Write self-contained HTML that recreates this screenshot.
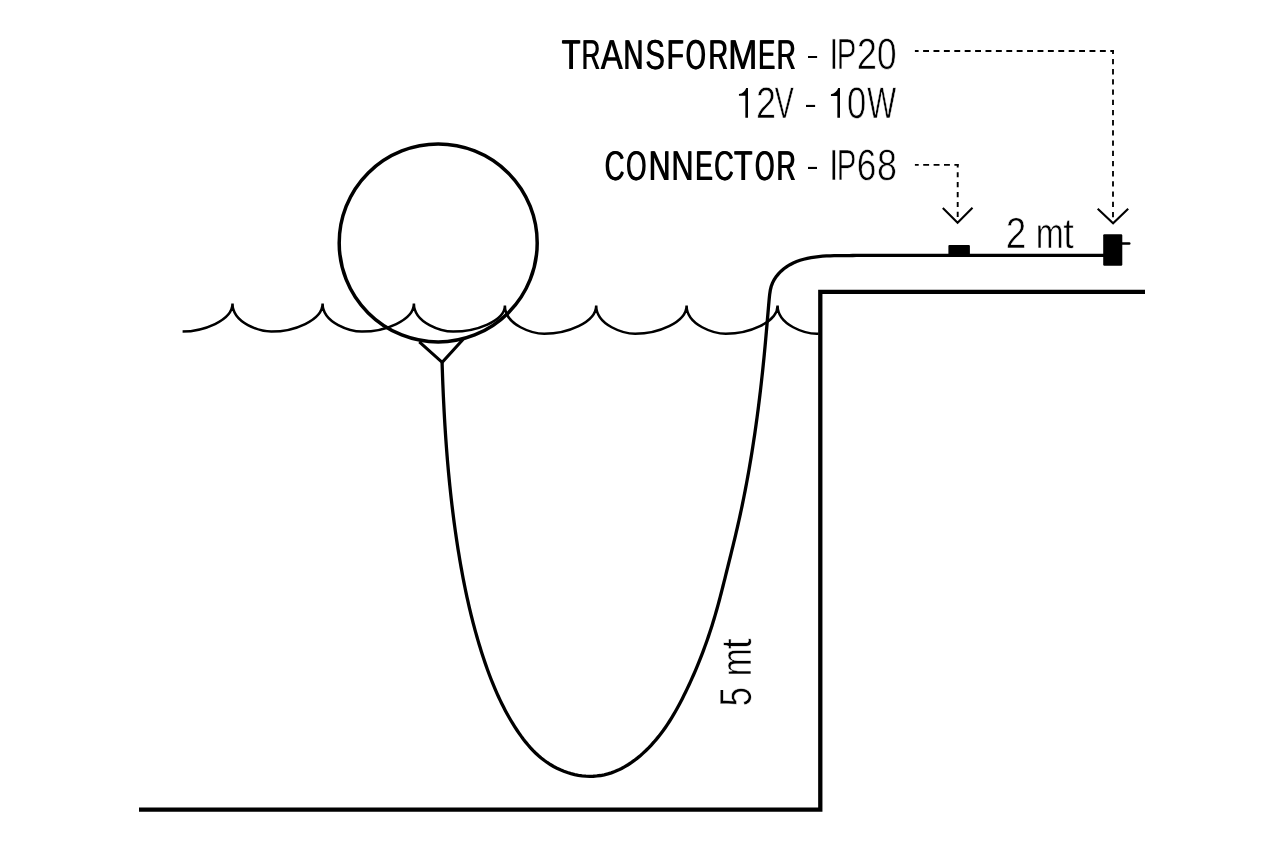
<!DOCTYPE html>
<html><head><meta charset="utf-8"><style>
html,body{margin:0;padding:0;background:#fff;width:1270px;height:847px;overflow:hidden}
svg{display:block;font-family:"Liberation Sans",sans-serif;will-change:transform;text-rendering:geometricPrecision}
text.r{stroke:#fff;stroke-width:0.6px}
</style></head><body>
<svg width="1270" height="847" viewBox="0 0 1270 847">
<defs><clipPath id="wc"><rect x="182.6" y="250" width="636" height="120"/></clipPath></defs>
<rect width="1270" height="847" fill="#fff"/>
<g fill="none" stroke="#000">
<path d="M139,809.7 H820.3 V291.9 H1145" stroke-width="4.3" stroke-linejoin="miter"/>
<path d="M142.00,303.50 C142.00,323.63 170.35,331.60 180.99,331.60 C203.07,331.60 232.50,320.72 232.50,303.50 C232.50,323.63 260.73,331.60 271.32,331.60 C293.30,331.60 322.60,320.72 322.60,303.50 C322.60,323.63 351.20,331.60 361.93,331.60 C384.21,331.60 413.90,320.72 413.90,303.50 C413.90,323.63 442.41,331.60 453.10,331.60 C475.31,331.60 504.90,321.49 504.90,305.50 C504.90,325.77 533.50,333.80 544.23,333.80 C566.51,333.80 596.20,322.84 596.20,305.50 C596.20,325.77 624.52,333.80 635.14,333.80 C657.20,333.80 686.60,322.84 686.60,305.50 C686.60,325.77 715.11,333.80 725.80,333.80 C748.01,333.80 777.60,322.84 777.60,305.50 C777.60,325.77 806.11,333.80 816.80,333.80 C839.01,333.80 868.60,322.84 868.60,305.50" stroke-width="2.5" clip-path="url(#wc)"/>
<circle cx="438.2" cy="242.9" r="99" stroke-width="3.5"/>
<path d="M419.3,341.8 L442.2,362.3 L463.2,339.3" stroke-width="3.1" stroke-linejoin="miter"/>
<path d="M442.09,362.51 L442.20,366.26 L442.33,370.00 L442.46,373.74 L442.59,377.49 L442.73,381.23 L442.88,384.98 L443.04,388.72 L443.20,392.47 L443.37,396.21 L443.54,399.96 L443.73,403.70 L443.92,407.45 L444.11,411.19 L444.32,414.93 L444.53,418.68 L444.75,422.42 L444.98,426.16 L445.22,429.91 L445.46,433.65 L445.71,437.39 L445.98,441.13 L446.25,444.87 L446.53,448.61 L446.82,452.35 L447.11,456.09 L447.42,459.82 L447.74,463.56 L448.07,467.30 L448.40,471.03 L448.75,474.76 L449.11,478.50 L449.48,482.23 L449.85,485.96 L450.24,489.69 L450.64,493.42 L451.05,497.14 L451.48,500.87 L451.91,504.59 L452.35,508.31 L452.81,512.03 L453.28,515.75 L453.76,519.47 L454.25,523.19 L454.75,526.90 L455.27,530.62 L455.80,534.33 L456.34,538.04 L456.90,541.74 L457.46,545.45 L458.04,549.15 L458.64,552.85 L459.25,556.55 L459.87,560.25 L460.51,563.94 L461.16,567.63 L461.83,571.32 L462.51,575.01 L463.21,578.69 L463.93,582.37 L464.66,586.04 L465.41,589.72 L466.18,593.38 L466.97,597.05 L467.78,600.71 L468.61,604.36 L469.46,608.01 L470.32,611.66 L471.21,615.30 L472.12,618.93 L473.05,622.56 L474.00,626.19 L474.98,629.81 L475.98,633.42 L477.00,637.03 L478.04,640.63 L479.11,644.23 L480.21,647.82 L481.33,651.40 L482.47,654.98 L483.64,658.55 L484.84,662.11 L486.06,665.66 L487.32,669.20 L488.61,672.73 L489.93,676.25 L491.28,679.75 L492.67,683.23 L494.10,686.70 L495.57,690.16 L497.08,693.59 L498.62,697.00 L500.22,700.39 L501.85,703.76 L503.53,707.10 L505.26,710.42 L507.04,713.71 L508.87,716.98 L510.75,720.21 L512.68,723.42 L514.66,726.59 L516.71,729.74 L518.80,732.84 L520.96,735.91 L523.19,738.93 L525.49,741.90 L527.87,744.79 L530.33,747.62 L532.88,750.36 L535.52,753.00 L538.27,755.55 L541.13,757.98 L544.09,760.30 L547.16,762.48 L550.33,764.54 L553.58,766.45 L556.93,768.21 L560.35,769.82 L563.84,771.26 L567.40,772.54 L571.01,773.63 L574.67,774.54 L578.37,775.27 L582.08,775.81 L585.81,776.15 L589.54,776.29 L593.26,776.24 L596.96,775.98 L600.63,775.51 L604.25,774.83 L607.82,773.94 L611.34,772.85 L614.81,771.57 L618.21,770.11 L621.56,768.48 L624.84,766.69 L628.06,764.75 L631.22,762.67 L634.30,760.46 L637.32,758.13 L640.26,755.69 L643.13,753.15 L645.93,750.53 L648.64,747.82 L651.28,745.05 L653.83,742.22 L656.30,739.34 L658.69,736.42 L660.99,733.46 L663.23,730.46 L665.39,727.42 L667.48,724.35 L669.51,721.24 L671.48,718.10 L673.40,714.93 L675.26,711.73 L677.08,708.50 L678.86,705.24 L680.60,701.96 L682.30,698.66 L683.98,695.33 L685.62,691.99 L687.24,688.62 L688.84,685.24 L690.41,681.84 L691.96,678.42 L693.48,674.99 L694.97,671.54 L696.44,668.08 L697.88,664.60 L699.29,661.11 L700.68,657.61 L702.05,654.09 L703.38,650.57 L704.69,647.03 L705.97,643.49 L707.23,639.93 L708.46,636.37 L709.66,632.80 L710.83,629.23 L711.98,625.65 L713.09,622.06 L714.18,618.47 L715.25,614.88 L716.28,611.28 L717.29,607.68 L718.28,604.08 L719.26,600.47 L720.21,596.87 L721.15,593.25 L722.08,589.64 L723.00,586.02 L723.91,582.40 L724.82,578.78 L725.72,575.15 L726.62,571.52 L727.53,567.89 L728.43,564.26 L729.33,560.63 L730.24,556.99 L731.14,553.35 L732.03,549.71 L732.92,546.06 L733.81,542.42 L734.69,538.77 L735.56,535.12 L736.42,531.46 L737.26,527.81 L738.10,524.15 L738.92,520.49 L739.73,516.82 L740.53,513.15 L741.32,509.49 L742.09,505.81 L742.84,502.14 L743.59,498.46 L744.32,494.78 L745.05,491.10 L745.75,487.42 L746.45,483.74 L747.14,480.05 L747.81,476.36 L748.47,472.67 L749.12,468.98 L749.76,465.28 L750.39,461.59 L751.00,457.89 L751.61,454.19 L752.20,450.49 L752.79,446.78 L753.36,443.08 L753.93,439.37 L754.48,435.66 L755.02,431.96 L755.55,428.25 L756.08,424.53 L756.59,420.82 L757.10,417.11 L757.59,413.39 L758.08,409.68 L758.55,405.96 L759.02,402.24 L759.48,398.52 L759.93,394.80 L760.37,391.08 L760.80,387.36 L761.23,383.64 L761.64,379.92 L762.05,376.19 L762.45,372.47 L762.84,368.74 L763.23,365.02 L763.61,361.29 L763.98,357.57 L764.34,353.84 L764.70,350.12 L765.05,346.39 L765.39,342.66 L765.73,338.93 L766.06,335.20 L766.39,331.47 L766.71,327.74 L767.04,324.00 L767.36,320.25 L767.68,316.50 L768.00,312.75 L768.33,308.98 L768.65,305.21 L768.98,301.43 L769.32,297.65 L769.73,293.88 L770.31,290.17 L771.18,286.56 L772.44,283.10 L774.10,279.82 L776.12,276.72 L778.45,273.84 L781.04,271.17 L783.85,268.75 L786.83,266.58 L789.96,264.67 L793.22,262.99 L796.60,261.54 L800.09,260.29 L803.67,259.23 L807.33,258.34 L811.05,257.62 L814.83,257.03 L818.66,256.57 L822.51,256.22 L826.37,255.97 L830.24,255.79 L834.10,255.68 L837.93,255.62 L841.73,255.59 L845.48,255.57 L849.16,255.55 L852.77,255.52 L856.28,255.45 L859.70,255.34 H1104" stroke-width="3.3"/>
<path d="M914.9,51.0 H1113.95" stroke-width="1.9" stroke-dasharray="5.9 4.5" stroke-dashoffset="2.2"/>
<path d="M1113,50.05 V221" stroke-width="1.85" stroke-dasharray="5.3 4.9" stroke-dashoffset="1.35"/>
<path d="M914.9,164.8 H958.6" stroke-width="1.75" stroke-dasharray="5.9 4.5" stroke-dashoffset="2.1"/>
<path d="M957.7,163.95 V220.5" stroke-width="1.9" stroke-dasharray="5.2 4.73" stroke-dashoffset="1.75"/>
<path d="M1097.7,208.7 L1113.1,223.3 L1128.2,208.7" stroke-width="2.1"/>
<path d="M942.8,208.1 L957.6,222.7 L972.5,207.8" stroke-width="2.1"/>
<path d="M1122,243.5 H1129.3" stroke-width="2.4" stroke-linecap="round"/>
</g>
<rect x="808.0" y="56.0" width="9.1" height="2.0" fill="#000"/>
<rect x="806.0" y="104.9" width="9.1" height="2.1" fill="#000"/>
<rect x="808.0" y="166.9" width="9.0" height="2.1" fill="#000"/>
<rect x="948.4" y="245" width="21.5" height="11.5" rx="1" fill="#000"/>
<rect x="1103.2" y="234.2" width="19.1" height="31.5" rx="1.2" fill="#000"/>
<g font-family="Liberation Sans" fill="#000">
<text transform="translate(561.31 68.75) scale(0.7320 1)" font-size="41.8">T</text><text transform="translate(562.21 68.75) scale(0.7320 1)" font-size="41.8">T</text>
<text transform="translate(581.17 68.75) scale(0.6205 1)" font-size="41.8">R</text><text transform="translate(582.07 68.75) scale(0.6205 1)" font-size="41.8">R</text>
<text transform="translate(600.44 68.75) scale(0.7793 1)" font-size="41.8">A</text><text transform="translate(601.34 68.75) scale(0.7793 1)" font-size="41.8">A</text>
<text transform="translate(623.04 68.75) scale(0.6596 1)" font-size="41.8">N</text><text transform="translate(623.94 68.75) scale(0.6596 1)" font-size="41.8">N</text>
<text transform="translate(644.97 68.75) scale(0.6982 1)" font-size="41.8">S</text><text transform="translate(645.87 68.75) scale(0.6982 1)" font-size="41.8">S</text>
<text transform="translate(666.30 68.75) scale(0.6706 1)" font-size="41.8">F</text><text transform="translate(667.20 68.75) scale(0.6706 1)" font-size="41.8">F</text>
<text transform="translate(685.28 68.75) scale(0.6168 1)" font-size="41.8">O</text><text transform="translate(686.18 68.75) scale(0.6168 1)" font-size="41.8">O</text>
<text transform="translate(707.98 68.75) scale(0.6487 1)" font-size="41.8">R</text><text transform="translate(708.88 68.75) scale(0.6487 1)" font-size="41.8">R</text>
<text transform="translate(727.72 68.75) scale(0.8404 1)" font-size="41.8">M</text><text transform="translate(728.62 68.75) scale(0.8404 1)" font-size="41.8">M</text>
<text transform="translate(757.68 68.75) scale(0.6180 1)" font-size="41.8">E</text><text transform="translate(758.58 68.75) scale(0.6180 1)" font-size="41.8">E</text>
<text transform="translate(776.34 68.75) scale(0.6286 1)" font-size="41.8">R</text><text transform="translate(777.24 68.75) scale(0.6286 1)" font-size="41.8">R</text>
<text transform="translate(604.19 179.80) scale(0.6664 1)" font-size="41.7">C</text><text transform="translate(605.09 179.80) scale(0.6664 1)" font-size="41.7">C</text>
<text transform="translate(625.66 179.80) scale(0.6288 1)" font-size="41.7">O</text><text transform="translate(626.56 179.80) scale(0.6288 1)" font-size="41.7">O</text>
<text transform="translate(648.23 179.80) scale(0.7212 1)" font-size="41.7">N</text><text transform="translate(649.13 179.80) scale(0.7212 1)" font-size="41.7">N</text>
<text transform="translate(670.97 179.80) scale(0.7384 1)" font-size="41.7">N</text><text transform="translate(671.87 179.80) scale(0.7384 1)" font-size="41.7">N</text>
<text transform="translate(694.74 179.80) scale(0.6327 1)" font-size="41.7">E</text><text transform="translate(695.64 179.80) scale(0.6327 1)" font-size="41.7">E</text>
<text transform="translate(713.71 179.80) scale(0.6551 1)" font-size="41.7">C</text><text transform="translate(714.61 179.80) scale(0.6551 1)" font-size="41.7">C</text>
<text transform="translate(733.52 179.80) scale(0.7252 1)" font-size="41.7">T</text><text transform="translate(734.42 179.80) scale(0.7252 1)" font-size="41.7">T</text>
<text transform="translate(754.61 179.80) scale(0.6007 1)" font-size="41.7">O</text><text transform="translate(755.51 179.80) scale(0.6007 1)" font-size="41.7">O</text>
<text transform="translate(776.00 179.80) scale(0.6422 1)" font-size="41.7">R</text><text transform="translate(776.90 179.80) scale(0.6422 1)" font-size="41.7">R</text>
<text class="r" transform="translate(829.16 68.90) scale(0.7481 1)" font-size="43.7">I</text>
<text class="r" transform="translate(836.79 68.90) scale(0.6708 1)" font-size="43.7">P</text>
<text class="r" transform="translate(856.82 68.90) scale(0.8338 1)" font-size="43.7">2</text>
<text class="r" transform="translate(877.08 68.90) scale(0.8058 1)" font-size="43.7">0</text>
<text class="r" transform="translate(828.93 179.90) scale(0.7769 1)" font-size="43.7">I</text>
<text class="r" transform="translate(836.79 179.90) scale(0.6708 1)" font-size="43.7">P</text>
<text class="r" transform="translate(856.87 179.90) scale(0.8076 1)" font-size="43.7">6</text>
<text class="r" transform="translate(876.89 179.90) scale(0.8214 1)" font-size="43.7">8</text>
<text class="r" transform="translate(755.95 118.10) scale(0.8177 1)" font-size="44.0">2</text>
<text class="r" transform="translate(774.78 118.10) scale(0.6488 1)" font-size="44.0">V</text>
<text class="r" transform="translate(847.11 118.00) scale(0.7855 1)" font-size="44.0">0</text>
<text class="r" transform="translate(867.36 118.00) scale(0.6948 1)" font-size="44.0">W</text>
<path d="M745.35,117.80 H748.00 V87.95 H746.15 C745.25,91.25 742.55,93.55 738.95,94.05 V95.85 H745.35 Z" fill="#000"/>
<path d="M837.35,117.70 H840.00 V88.10 H838.15 C837.25,91.40 834.55,93.70 830.95,94.20 V96.00 H837.35 Z" fill="#000"/>
<text class="r" transform="translate(1005.69 248.20) scale(0.8482 1)" font-size="43.5">2</text>
<text class="r" transform="translate(1035.73 248.20) scale(0.7823 1)" font-size="43.0">m</text>
<text class="r" transform="translate(1063.26 248.20) scale(0.8862 1)" font-size="43.0">t</text>
<text class="r" transform="translate(751.00 706.21) rotate(-90) scale(0.7686 1)" font-size="44.9">5</text>
<text class="r" transform="translate(751.00 676.17) rotate(-90) scale(0.7860 1)" font-size="42.8">m</text>
<text class="r" transform="translate(751.00 649.17) rotate(-90) scale(0.9197 1)" font-size="42.8">t</text>
</g>
</svg>
</body></html>
